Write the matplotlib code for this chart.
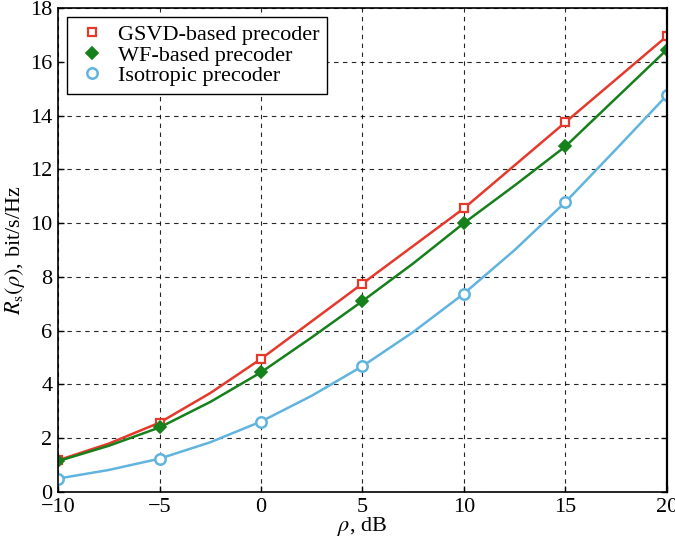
import matplotlib.pyplot as plt
import numpy as np

# Значения (шаг 2.5 дБ, маркеры каждые 5 дБ)
snr_db = [-10, -7.5, -5, -2.5, 0, 2.5, 5, 7.5, 10, 12.5, 15, 17.5, 20]
rate_gsvd = [1.18, 1.8, 2.58, 3.68, 4.95, 6.35, 7.75, 9.15, 10.55, 12.15, 13.75, 15.35, 16.95]
rate_wf = [1.15, 1.72, 2.4, 3.35, 4.45, 5.75, 7.1, 8.5, 10.0, 11.4, 12.85, 14.65, 16.45]
rate_iso = [0.5, 0.82, 1.24, 1.85, 2.62, 3.58, 4.68, 5.95, 7.38, 9.0, 10.78, 12.75, 14.75]

plt.rcParams["font.family"] = ["Liberation Serif", "DejaVu Serif"]
plt.rcParams["mathtext.fontset"] = "stix"
plt.rcParams["font.size"] = 16

fig = plt.figure(figsize=(6.75, 5.47), dpi=100)
ax = fig.add_axes([0.086, 0.1005, 0.902, 0.885])

ax.plot(snr_db, rate_gsvd, color="#e5392b", linewidth=1.8, marker="s", markersize=6,
        markerfacecolor="white", markeredgewidth=1.6, markevery=2, label="GSVD-based precoder")
ax.plot(snr_db, rate_wf, color="#16801a", linewidth=1.8, marker="D", markersize=6,
        markerfacecolor="#16801a", markeredgewidth=1.2, markevery=2, label="WF-based precoder")
ax.plot(snr_db, rate_iso, color="#60b4de", linewidth=1.8, marker="o", markersize=7.5,
        markerfacecolor="white", markeredgewidth=1.8, markevery=2, label="Isotropic precoder")

ax.set_xlim(-10, 20)
ax.set_ylim(0, 18)
ax.set_xticks(np.arange(-10, 21, 5))
ax.set_yticks(np.arange(0, 19, 2))
ax.set_xticklabels(["\u221210", "\u22125", "0", "5", "10", "15", "20"])
ax.tick_params(direction="in", top=False, right=True, length=4, width=1, pad=4)
ax.grid(True, color="black", linestyle=(0, (4, 4)), linewidth=0.8, alpha=0.85)
for sp in ax.spines.values():
    sp.set_linewidth(1.2)
ax.spines["right"].set_linewidth(1.6)

ax.set_xlabel(r"$\rho$, dB", labelpad=-1)
ax.set_ylabel(r"$R_\mathrm{s}(\rho)$, bit/s/Hz", labelpad=2)

leg = ax.legend(loc="upper left", handlelength=1.6, handletextpad=0.35, borderaxespad=0.4,
                fancybox=False, framealpha=1, edgecolor="black", labelspacing=0.0,
                borderpad=0.35, fontsize=16)
for line in leg.get_lines():
    line.set_linestyle("none")
leg.get_frame().set_linewidth(1.0)

fig.savefig("out.png", dpi=100)
